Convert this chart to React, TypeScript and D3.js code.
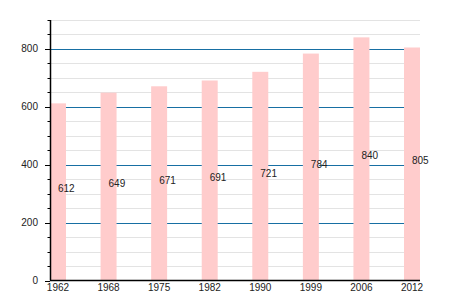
import React from "react";
import * as d3 from "d3";

const years = ["1962", "1968", "1975", "1982", "1990", "1999", "2006", "2012"];
const population = [612, 649, 671, 691, 721, 784, 840, 805];
const majorTicks = [0, 200, 400, 600, 800];
const minorTicks = d3.range(0, 901, 50);

const W = 450;
const H = 300;
const left = 50;
const right = 420;
const top = 20;
const bottom = 280.5;

export default function App() {
  const x = d3.scaleBand<string>().domain(years).range([left, right]).paddingInner(0.684).paddingOuter(0);
  const y = d3.scaleLinear().domain([0, 900]).range([bottom, top]);
  const font = "'Liberation Sans', Arial, sans-serif";
  return (
    <svg width={W} height={H} style={{ position: "absolute", left: 0, top: 0, background: "#fff" }}>
      {minorTicks.filter((t) => t % 200 !== 0).map((t) => (
        <line key={"g" + t} x1={left} x2={right} y1={Math.round(y(t)) + 0.5} y2={Math.round(y(t)) + 0.5} stroke="#e3e3e3" strokeWidth={1} />
      ))}
      {majorTicks.filter((t) => t > 0).map((t) => (
        <line key={"M" + t} x1={left} x2={right} y1={Math.round(y(t)) + 0.5} y2={Math.round(y(t)) + 0.5} stroke="#176fa3" strokeWidth={1.2} />
      ))}
      {years.map((yr, i) => (
        <rect key={yr} x={x(yr)} y={y(population[i])} width={x.bandwidth()} height={bottom - y(population[i])} fill="#ffcccc" />
      ))}
      {minorTicks.map((t) => (
        <line key={"t" + t} x1={t % 200 === 0 ? 45 : 47.5} x2={left} y1={Math.round(y(t)) + 0.5} y2={Math.round(y(t)) + 0.5} stroke="#000" strokeWidth={1} />
      ))}
      <line x1={left + 0.5} x2={left + 0.5} y1={top} y2={bottom} stroke="#000" strokeWidth={1.5} />
      <line x1={left} x2={right} y1={bottom} y2={bottom} stroke="#000" strokeWidth={1.5} />
      {majorTicks.map((t) => (
        <text key={"l" + t} x={38} y={y(t) + 3.5} textAnchor="end" fontFamily={font} fontSize={10} fill="#222">
          {t}
        </text>
      ))}
      {years.map((yr) => (
        <text key={"x" + yr} x={(x(yr) as number) + x.bandwidth() / 2} y={291} textAnchor="middle" fontFamily={font} fontSize={10} fill="#222">
          {yr}
        </text>
      ))}
      {years.map((yr, i) => (
        <text key={"v" + yr} x={(x(yr) as number) + x.bandwidth() / 2} y={y(population[i] / 2) + 0.5} textAnchor="start" fontFamily={font} fontSize={10} fill="#222">
          {population[i]}
        </text>
      ))}
    </svg>
  );
}
